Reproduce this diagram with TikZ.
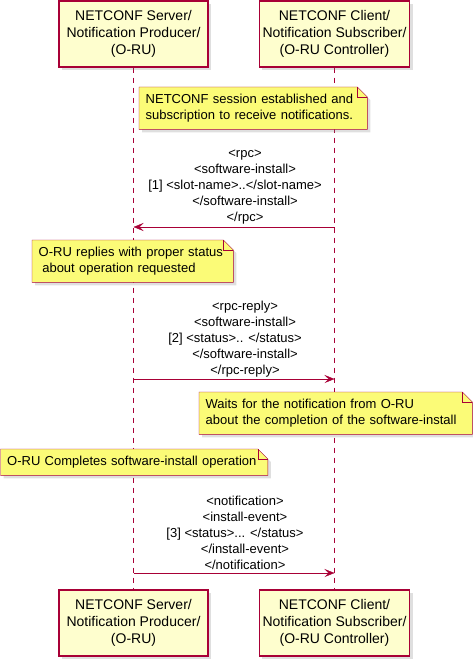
\documentclass[tikz,border=0pt]{standalone}
\usepackage{fontspec}
\setmainfont{Liberation Sans}
\usepackage{xcolor}
\usepackage{tikz}
\usetikzlibrary{arrows.meta, positioning}
\usetikzlibrary{shadows}
\usetikzlibrary{calc}
\definecolor{umlred}{HTML}{A80036}
\definecolor{partfill}{HTML}{FEFECE}
\definecolor{notefill}{HTML}{FBFB77}

\pgfdeclarelayer{lanes}
\pgfdeclarelayer{notes}
\pgfsetlayers{lanes,notes,main}

\tikzset{
    partbox/.style={draw=umlred, line width=1.2pt, fill=partfill,
        minimum width=149pt, minimum height=66pt, align=center,
        font=\fontsize{14}{17}\selectfont,
        drop shadow={shadow xshift=3pt, shadow yshift=-3pt, opacity=0.25}},
    lifeline/.style={draw=umlred, dash pattern=on 5pt off 5pt},
    msg/.style={draw=umlred, -{Stealth[length=10pt, width=8pt, inset=4pt]}},
    msglabel/.style={align=center, font=\fontsize{13}{16}\selectfont},
    notetext/.style={anchor=north west, align=left, inner xsep=6.5pt, inner ysep=0pt,
        minimum height=42pt, font=\fontsize{13}{16}\selectfont},
    noteshape/.style={draw=umlred, fill=notefill,
        drop shadow={shadow xshift=3pt, shadow yshift=-3pt, opacity=0.25}}
}

% note outline with folded corner, behind the text node
\newcommand{\foldnote}[1]{%
    \begin{pgfonlayer}{notes}
        \draw[noteshape] (#1.south west) -- (#1.north west) -- ([xshift=-10pt]#1.north east)
            -- ([yshift=-10pt]#1.north east) -- (#1.south east) -- cycle;
        \draw[umlred] ([xshift=-10pt]#1.north east) |- ([yshift=-10pt]#1.north east);
    \end{pgfonlayer}}

\begin{document}
\begin{tikzpicture}[x=1pt, y=-1pt, >=Stealth]
    \useasboundingbox (0,0) rectangle (473,663);

    % participants
    \node[partbox] (srvtop) at (133.5,34) {NETCONF Server/\\Notification Producer/\\(O-RU)};
    \node[partbox] (clttop) at (334.5,34) {NETCONF Client/\\Notification Subscriber/\\(O-RU Controller)};
    \node[partbox] (srvbot) at (133.5,623) {NETCONF Server/\\Notification Producer/\\(O-RU)};
    \node[partbox] (cltbot) at (334.5,623) {NETCONF Client/\\Notification Subscriber/\\(O-RU Controller)};
    \begin{pgfonlayer}{lanes}
        \draw[lifeline] (srvtop) -- (srvbot);
        \draw[lifeline] (clttop) -- (cltbot);
    \end{pgfonlayer}

    % notes
    \node[notetext, text width=215pt] (session) at (139,87)
        {NETCONF session established and\\subscription to receive notifications.};
    \foldnote{session}
    \node[notetext, text width=188pt] (replies) at (32,240)
        {O-RU replies with proper status\\\hspace*{3.6pt}about operation requested};
    \foldnote{replies}
    \node[notetext, text width=260pt] (waits) at (199,392)
        {Waits for the notification from O-RU\\about the completion of the software-install};
    \foldnote{waits}
    \node[notetext, text width=254pt, minimum height=26pt] (completes) at (0.5,449)
        {O-RU Completes software-install operation};
    \foldnote{completes}

    % messages
    \coordinate (m1) at (0,227);
    \coordinate (m2) at (0,379);
    \coordinate (m3) at (0,573);
    \draw[msg] (clttop |- m1) -- (srvtop |- m1);
    \node[msglabel] (rpc) at (245,187)
        {<rpc>\\<software-install>\\{[1]} <slot-name>..</slot-name>\rule{20pt}{0pt}\\</software-install>\\</rpc>};
    \draw[msg] (srvtop |- m2) -- (clttop |- m2);
    \node[msglabel] (reply) at (245,339.5)
        {<rpc-reply>\\<software-install>\\{[2]} <status>.. </status>\rule{20pt}{0pt}\\</software-install>\\</rpc-reply>};
    \draw[msg] (srvtop |- m3) -- (clttop |- m3);
    \node[msglabel] (notif) at (245,532.5)
        {<notification>\\<install-event>\\{[3]} <status>... </status>\rule{20pt}{0pt}\\</install-event>\\</notification>};
\end{tikzpicture}
\end{document}
